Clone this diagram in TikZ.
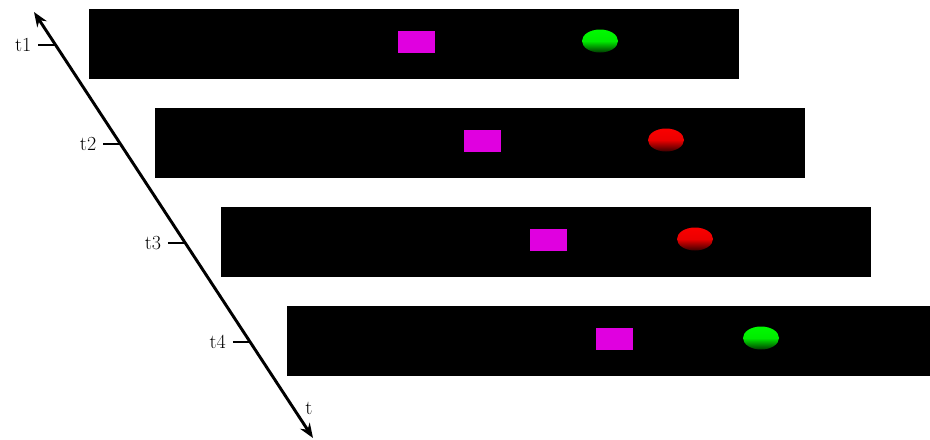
\documentclass[tikz,border=0pt]{standalone}
\usetikzlibrary{arrows.meta}
\definecolor{blockmag}{RGB}{224,0,224}
\begin{document}
\begin{tikzpicture}[x=0.75pt,y=-0.75pt,
  frame/.style={fill=black,draw=none},
  block/.style={fill=blockmag,draw=none},
  greenball/.style={draw=none,top color={rgb,255:red,0;green,250;blue,0},bottom color={rgb,255:red,0;green,60;blue,0},middle color={rgb,255:red,0;green,235;blue,0}},
  redball/.style={draw=none,top color={rgb,255:red,250;green,0;blue,0},bottom color={rgb,255:red,60;green,0;blue,0},middle color={rgb,255:red,235;green,0;blue,0}},
  tick/.style={line width=2.2pt},
  axis/.style={line width=2.2pt,{Stealth[length=11pt,width=8.5pt]}-{Stealth[length=11pt,width=8.5pt]}},
  lbl/.style={inner sep=0pt,font=\fontsize{15}{18}\selectfont}]
\useasboundingbox (0,0) rectangle (930,439);
% frames
\fill[frame] (89,9) rectangle (739,79);
\fill[frame] (155,108) rectangle (805,178);
\fill[frame] (221,207) rectangle (871,277);
\fill[frame] (287,306) rectangle (930,376);
% magenta blocks
\fill[block] (398,31) rectangle (435,53);
\fill[block] (464,130) rectangle (501,152);
\fill[block] (530,229) rectangle (567,251);
\fill[block] (596,328) rectangle (633,350);
% balls
\shade[greenball] (600,41) ellipse [x radius=18,y radius=11.5];
\shade[redball] (666,140) ellipse [x radius=18,y radius=11.5];
\shade[redball] (695,239) ellipse [x radius=18,y radius=11.5];
\shade[greenball] (761,338) ellipse [x radius=18,y radius=11.5];
% time axis
\coordinate (top) at (34,12);
\coordinate (bot) at (313,438);
\draw[axis] (bot) -- (top);
\foreach \i/\y in {1/45,2/144,3/243,4/342}{
  \path (top) -- (bot) coordinate[pos={(\y-12)/426}] (p\i);
  \coordinate (q\i) at ([xshift=-13]p\i);
  \draw[tick] (q\i) -- (p\i);
  \node[lbl,anchor=east] (l\i) at ([xshift=-5]q\i) {t\i};
}
\node[lbl] (tl) at (309,408) {t};
\end{tikzpicture}
\end{document}
